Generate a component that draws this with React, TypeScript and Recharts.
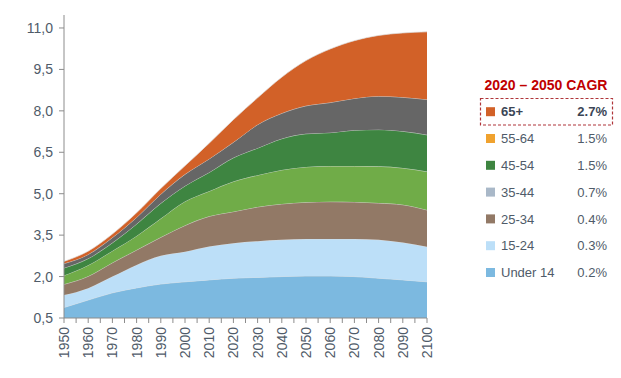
import React from 'react';
import { AreaChart, Area, XAxis, YAxis } from 'recharts';

// population by age group, billions
const years = [1950, 1960, 1970, 1980, 1990, 2000, 2010, 2020, 2030, 2040, 2050, 2060, 2070, 2080, 2090, 2100];
const under14 = [0.88, 1.15, 1.41, 1.59, 1.73, 1.81, 1.88, 1.94, 1.97, 2.0, 2.02, 2.02, 2.0, 1.94, 1.88, 1.81];
const age15to24 = [0.45, 0.43, 0.59, 0.83, 1.02, 1.09, 1.21, 1.27, 1.31, 1.33, 1.34, 1.34, 1.36, 1.39, 1.35, 1.27];
const age25to34 = [0.39, 0.43, 0.5, 0.54, 0.67, 0.95, 1.09, 1.14, 1.24, 1.3, 1.33, 1.35, 1.34, 1.33, 1.37, 1.33];
const age35to44 = [0.32, 0.4, 0.43, 0.51, 0.68, 0.87, 0.91, 1.09, 1.15, 1.23, 1.28, 1.29, 1.3, 1.33, 1.33, 1.39];
const age45to54 = [0.27, 0.24, 0.29, 0.43, 0.55, 0.56, 0.68, 0.86, 0.98, 1.13, 1.2, 1.21, 1.3, 1.33, 1.33, 1.33];
const age55to64 = [0.16, 0.15, 0.19, 0.24, 0.33, 0.42, 0.49, 0.56, 0.85, 0.92, 1.01, 1.09, 1.15, 1.21, 1.23, 1.28];
const age65plus = [0.08, 0.12, 0.13, 0.17, 0.21, 0.31, 0.57, 0.82, 0.97, 1.31, 1.64, 1.94, 2.09, 2.2, 2.33, 2.45];

const xTicks = [1950, 1955, 1960, 1965, 1970, 1975, 1980, 1985, 1990, 1995, 2000, 2005, 2010, 2015, 2020, 2025, 2030, 2035, 2040, 2045, 2050, 2055, 2060, 2065, 2070, 2075, 2080, 2085, 2090, 2095, 2100];
const yTicks = [0.5, 2.0, 3.5, 5.0, 6.5, 8.0, 9.5, 11.0];

const legendNames = ['65+', '55-64', '45-54', '35-44', '25-34', '15-24', 'Under 14'];
const legendCagr = ['2.7%', '1.5%', '1.5%', '0.7%', '0.4%', '0.3%', '0.2%'];
const legendColors = ['#d26128', '#f0a22e', '#3e8541', '#a9b8c8', '#927966', '#bcdff8', '#7cb9e0'];

const series = [
  { key: 'under14', values: under14, color: '#7cb9e0' },
  { key: 'age15to24', values: age15to24, color: '#bcdff8' },
  { key: 'age25to34', values: age25to34, color: '#927966' },
  { key: 'age35to44', values: age35to44, color: '#70ac48' },
  { key: 'age45to54', values: age45to54, color: '#3e8541' },
  { key: 'age55to64', values: age55to64, color: '#666666' },
  { key: 'age65plus', values: age65plus, color: '#d26128' },
];

const data = years.map((year, i) => {
  const row: Record<string, number> = { year };
  series.forEach(s => { row[s.key] = s.values[i]; });
  return row;
});

const FONT = '"Liberation Sans", Arial, sans-serif';
const TEXT = '#4f5b69';
const AXIS = '#8c8c8c';

const XTick = (props: any) => {
  const { x, y, payload } = props;
  if (payload.value % 10 !== 0) return null;
  return (
    <text
      x={x}
      y={y}
      transform={`rotate(-90, ${x}, ${y})`}
      textAnchor="end"
      dy="0.36em"
      fontSize={14}
      fontFamily={FONT}
      fill={TEXT}
    >
      {payload.value}
    </text>
  );
};

export default function App() {
  return (
    <div style={{ position: 'absolute', left: 0, top: 0, width: 621, height: 378, background: '#fff' }}>
      <AreaChart
        width={621}
        height={378}
        data={data}
        margin={{ top: 15, right: 194, bottom: 0, left: 0 }}
      >
        <XAxis
          dataKey="year"
          type="number"
          domain={[1950, 2100]}
          ticks={xTicks}
          interval={0}
          height={60}
          tickSize={5}
          tickMargin={4}
          stroke={AXIS}
          tick={<XTick />}
        />
        <YAxis
          type="number"
          domain={[0.5, 11.47]}
          allowDataOverflow
          ticks={yTicks}
          width={64}
          tickSize={5}
          tickMargin={6}
          stroke={AXIS}
          tick={{ fontSize: 14, fontFamily: FONT, fill: TEXT }}
          tickFormatter={(v: number) => v.toFixed(1).replace('.', ',')}
        />
        {series.map(s => (
          <Area
            key={s.key}
            type="monotone"
            dataKey={s.key}
            stackId="pop"
            fill={s.color}
            fillOpacity={1}
            stroke="#dcdcdc"
            strokeWidth={0.7}
            dot={false}
            activeDot={false}
            isAnimationActive={false}
          />
        ))}
      </AreaChart>
      <svg width={621} height={378} style={{ position: 'absolute', left: 0, top: 0, pointerEvents: 'none' }}>
        <text x={546} y={89.5} textAnchor="middle" fontSize={14} fontWeight="bold" fontFamily={FONT} fill="#c00000">
          2020 – 2050 CAGR
        </text>
        <rect x={480.5} y={98.5} width={132} height={26.5} fill="none" stroke="#b0353a" strokeWidth={1.2} strokeDasharray="3 2" />
        {legendNames.map((name, i) => {
          const cy = 111.7 + i * 26.8;
          const bold = i === 0;
          return (
            <g key={name}>
              <rect x={486} y={cy - 4.5} width={9} height={9} fill={legendColors[i]} />
              <text x={501} y={cy} dy="0.36em" fontSize={13} fontWeight={bold ? 'bold' : 'normal'} fontFamily={FONT} fill={bold ? '#3b4656' : TEXT}>
                {name}
              </text>
              <text x={607} y={cy} dy="0.36em" textAnchor="end" fontSize={13} fontWeight={bold ? 'bold' : 'normal'} fontFamily={FONT} fill={bold ? '#3b4656' : TEXT}>
                {legendCagr[i]}
              </text>
            </g>
          );
        })}
      </svg>
    </div>
  );
}
